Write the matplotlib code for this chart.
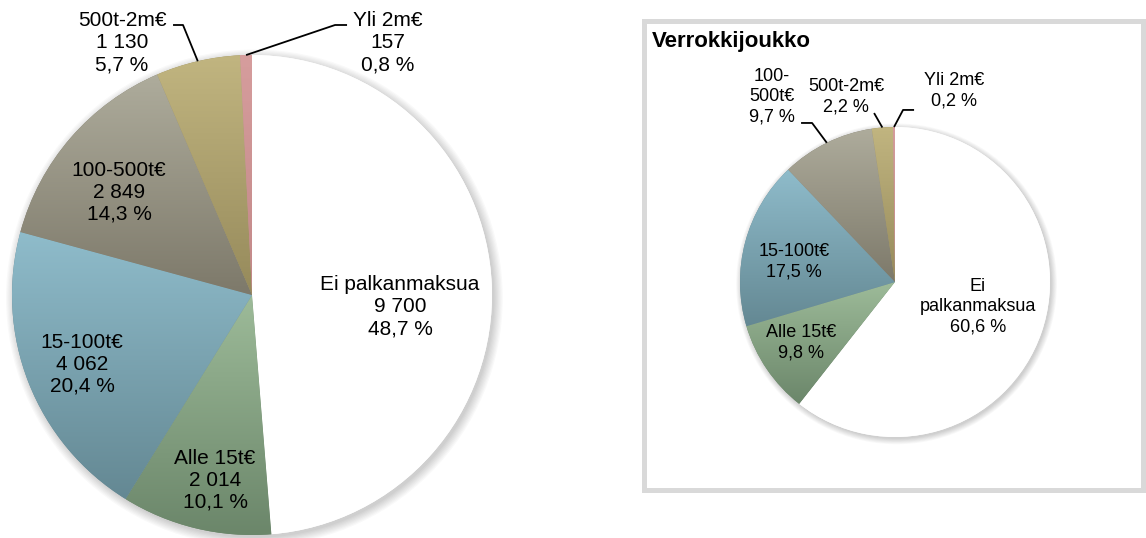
import numpy as np
import matplotlib
matplotlib.use("Agg")
import matplotlib.pyplot as plt
from matplotlib.patches import Circle, Rectangle
from matplotlib.colors import to_rgb

plt.rcParams["font.family"] = ["Liberation Sans", "DejaVu Sans"]

# data
luokat = ["Ei palkanmaksua", "Alle 15t€", "15-100t€", "100-500t€", "500t-2m€", "Yli 2m€"]
luokat_oikea = ["Ei\npalkanmaksua", "Alle 15t€", "15-100t€", "100-\n500t€", "500t-2m€", "Yli 2m€"]
maarat = [9700, 2014, 4062, 2849, 1130, 157]
osuudet = [48.7, 10.1, 20.4, 14.3, 5.7, 0.8]
osuudet_verrokki = [60.6, 9.8, 17.5, 9.7, 2.2, 0.2]

# colours: (top, bottom) of gradient
varit = [
    ("#ffffff", "#ffffff"),
    ("#9dbb99", "#6b866a"),
    ("#8fbccb", "#648893"),
    ("#aeac9c", "#7d796a"),
    ("#c1b580", "#968a5b"),
    ("#d69d9d", "#c28888"),
]

# label positions in radius units (layout)
pos_vasen = [(0.617, -0.05), (-0.154, -0.771), (-0.708, -0.2875),
             (-0.554, 0.429), (-0.542, 1.05), (0.567, 1.05)]
pos_oikea = [(0.535, -0.161), (-0.606, -0.394), (-0.652, 0.132),
             (-0.794, 1.194), (-0.316, 1.197), (0.381, 1.232)]
# leader lines: slice index -> (elbow, end)
viivat_vasen = {4: ((-0.2875, 1.125), (-0.329, 1.125)),
                5: ((0.346, 1.125), (0.396, 1.125))}
viivat_oikea = {3: ((-0.535, 1.026), (-0.606, 1.026)),
                4: ((-0.135, 1.090), (-0.135, 1.090)),
                5: ((0.052, 1.110), (0.123, 1.110))}


def fmt_luku(n):
    return f"{n:,}".replace(",", " ")


def fmt_pros(p):
    return f"{p:.1f}".replace(".", ",") + " %"


def piirra_piirakka(ax, arvot, tekstit, paikat, viivat, koko, riviväli):
    # soft shadow round the pie
    for i in range(8):
        ax.add_patch(Circle((0.01, -0.012), 1.0 + 0.005 * i, color="k",
                            alpha=0.025, lw=0, zorder=0, clip_on=False))
    wedges, _ = ax.pie(arvot, startangle=90, counterclock=False,
                       colors=[v[1] for v in varit],
                       wedgeprops=dict(linewidth=0))
    for w, (c1, c2) in zip(wedges, varit):
        w.set_zorder(1)
        w.set_clip_on(False)
        bb = w.get_path().get_extents()
        t = np.linspace(0, 1, 256)[:, None]
        grad = (1 - t) * np.array(to_rgb(c1)) + t * np.array(to_rgb(c2))
        grad = grad[:, None, :]
        im = ax.imshow(grad, extent=[bb.x0, bb.x1, bb.y0, bb.y1],
                       origin="upper", aspect="auto", zorder=2)
        im.set_clip_path(w)
    for i, (w, txt, (x, y)) in enumerate(zip(wedges, tekstit, paikat)):
        ax.text(x, y, txt, ha="center", va="center", fontsize=koko,
                linespacing=riviväli, color="#000000", zorder=5)
        if i in viivat:
            kulma = np.deg2rad((w.theta1 + w.theta2) / 2)
            (ex, ey), (lx, ly) = viivat[i]
            ax.plot([np.cos(kulma), ex, lx], [np.sin(kulma), ey, ly],
                    color="k", lw=1.3, clip_on=False, zorder=5,
                    solid_capstyle="butt")
    ax.set_xlim(-1, 1)
    ax.set_ylim(-1, 1)
    ax.set_aspect("equal")
    ax.axis("off")


fig = plt.figure(figsize=(11.46, 5.38), dpi=100)
W, H = 1146, 538

# frame of the comparison chart
bg = fig.add_axes([0, 0, 1, 1])
bg.set_xlim(0, W)
bg.set_ylim(H, 0)
bg.axis("off")
bg.add_patch(Rectangle((643.5, 20.5), 499, 469, fill=False,
                       edgecolor="#d9d9d9", lw=3.6))
bg.text(652, 42, "Verrokkijoukko", fontsize=16, fontweight="bold",
        ha="left", va="center")

# left pie: centre (252, 295), r 240 px
ax1 = fig.add_axes([12 / W, (H - 535) / H, 480 / W, 480 / H])
tekstit1 = [f"{l}\n{fmt_luku(m)}\n{fmt_pros(p)}" for l, m, p in zip(luokat, maarat, osuudet)]
piirra_piirakka(ax1, maarat, tekstit1, pos_vasen, viivat_vasen, 15, 1.2)

# right pie: centre (895, 282), r 155 px
ax2 = fig.add_axes([740 / W, (H - 437) / H, 310 / W, 310 / H])
tekstit2 = [f"{l}\n{fmt_pros(p)}" for l, p in zip(luokat_oikea, osuudet_verrokki)]
piirra_piirakka(ax2, osuudet_verrokki, tekstit2, pos_oikea, viivat_oikea, 13, 1.25)

fig.savefig("out.png", dpi=100)
